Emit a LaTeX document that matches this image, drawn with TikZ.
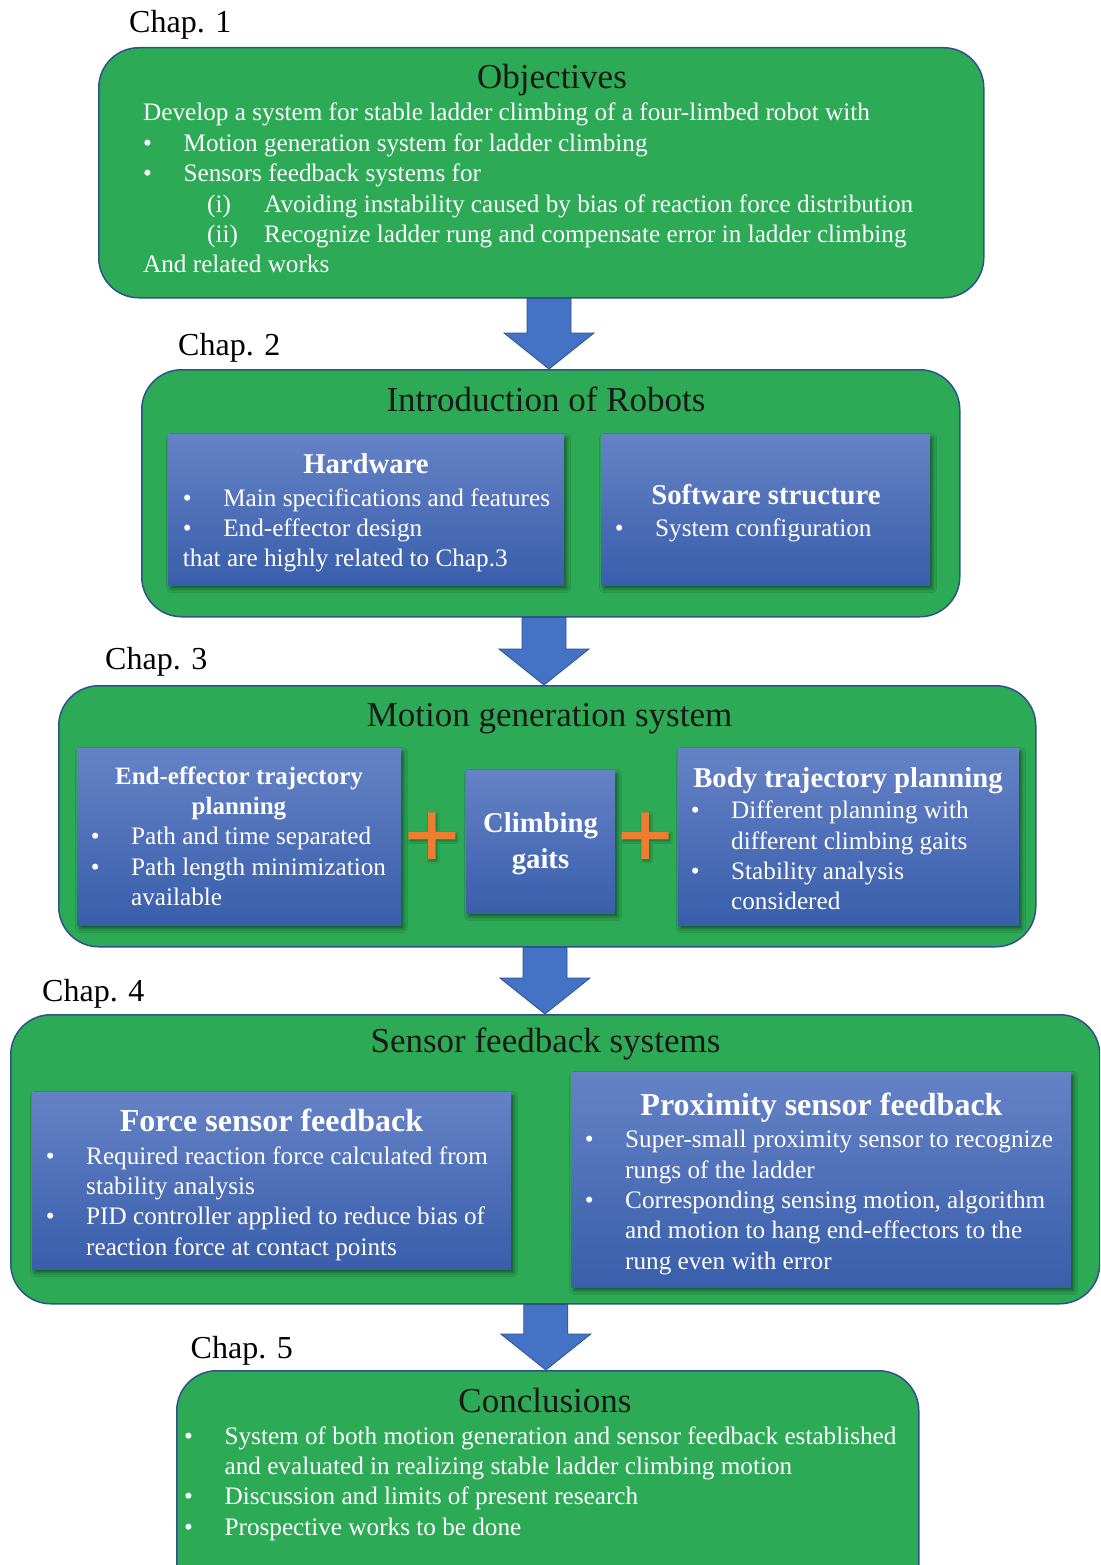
\documentclass[tikz,border=0pt]{standalone}
\usepackage{fontspec}
\setmainfont{Liberation Serif}
\usetikzlibrary{shadows.blur,calc}

\definecolor{boxgreen}{RGB}{45,170,85}
\definecolor{edgeblue}{RGB}{47,82,143}
\definecolor{arrowblue}{RGB}{68,114,196}
\definecolor{paneltop}{RGB}{101,130,198}
\definecolor{panelbot}{RGB}{57,94,171}
\definecolor{plusorange}{RGB}{237,125,49}
\definecolor{titleink}{RGB}{25,25,25}

\newcommand\bodyfont{\fontsize{25.2}{30.4}\selectfont}
\newcommand\itm{\makebox[40.4pt][l]{\textbullet}}
\newcommand\cont{\hspace*{40.4pt}}
\newcommand\subitm[1]{\hspace*{64pt}\makebox[57pt][l]{#1}}

% downward block arrow from the bottom of one box to the top of the next
\newcommand\flowarrow[3]{%
  \filldraw[arrowblue, draw=edgeblue, line width=0.8pt]
    let \p1=(#1.south -| #3,0), \p2=(#2.north -| #3,0) in
    (\x1-22pt,\y1) -- (\x1+22pt,\y1) -- (\x1+22pt,\y2+36pt) -- (\x1+45pt,\y2+36pt)
    -- (\x2,\y2) -- (\x1-45pt,\y2+36pt) -- (\x1-22pt,\y2+36pt) -- cycle;}

% orange plus sign centred on a coordinate
\newcommand\plussign[1]{%
  \fill[plusorange, blur shadow={shadow xshift=1.5pt, shadow yshift=-2pt, shadow blur radius=2pt, shadow opacity=35}]
    let \p1=(#1) in
    (\x1-23.5pt,\y1+3.75pt) -- (\x1-3.75pt,\y1+3.75pt) -- (\x1-3.75pt,\y1+23.3pt) -- (\x1+3.75pt,\y1+23.3pt)
    -- (\x1+3.75pt,\y1+3.75pt) -- (\x1+23.5pt,\y1+3.75pt) -- (\x1+23.5pt,\y1-3.75pt) -- (\x1+3.75pt,\y1-3.75pt)
    -- (\x1+3.75pt,\y1-23.3pt) -- (\x1-3.75pt,\y1-23.3pt) -- (\x1-3.75pt,\y1-3.75pt) -- (\x1-23.5pt,\y1-3.75pt) -- cycle;}

\tikzset{
  chapbox/.style={anchor=north west, inner sep=0, draw=edgeblue, line width=1.5pt,
    fill=boxgreen, rounded corners=40pt},
  panel/.style={anchor=north west, inner sep=0, top color=paneltop, bottom color=panelbot,
    blur shadow={shadow xshift=2.5pt, shadow yshift=-3.5pt, shadow blur radius=4pt, shadow opacity=50}},
  chaplabel/.style={anchor=base west, inner sep=0, font=\fontsize{32}{38}\selectfont, text=black},
  boxtitle/.style={anchor=base, inner sep=0, font=\fontsize{35}{42}\selectfont, text=titleink},
  paneltitle/.style={anchor=base, inner sep=0, font=\bfseries\fontsize{28.7}{34}\selectfont, text=white},
  bigtitle/.style={anchor=base, inner sep=0, font=\bfseries\fontsize{32}{38}\selectfont, text=white},
  blk/.style={anchor=north west, inner sep=0, align=left, font=\bodyfont, text=white},
}

\begin{document}
\begin{tikzpicture}[x=1pt, y=-1pt]
\useasboundingbox (0,0) rectangle (1100,1565);
\clip (0,0) rectangle (1100,1565);
\fill[white] (0,0) rectangle (1100,1565);

% ---------- chapter boxes ----------
\node[chapbox, minimum width=885pt, minimum height=250pt] (obj) at (98,47) {};
\node[chapbox, minimum width=818pt, minimum height=247pt] (intro) at (141,369) {};
\node[chapbox, minimum width=977pt, minimum height=261pt] (motion) at (58,685) {};
\node[chapbox, minimum width=1089pt, minimum height=289pt] (sensor) at (10,1014) {};
\node[chapbox, minimum width=742pt, minimum height=260pt] (concl) at (176,1370) {};

% ---------- arrows between chapters ----------
\flowarrow{obj}{intro}{549}
\flowarrow{intro}{motion}{544}
\flowarrow{motion}{sensor}{545}
\flowarrow{sensor}{concl}{545.8}

% ---------- chapter labels ----------
\node[chaplabel] (c1) at (129,33) {Chap. 1};
\node[chaplabel] (c2) at (178,355) {Chap. 2};
\node[chaplabel] (c3) at (105,669) {Chap. 3};
\node[chaplabel] (c4) at (42,1001) {Chap. 4};
\node[chaplabel] (c5) at (190.5,1358) {Chap. 5};

% ---------- Chap. 1: objectives ----------
\node[boxtitle] (objtitle) at (552,89) {Objectives};
\node[blk] (objtxt) at (143,99.4) {\strut Develop a system for stable ladder climbing of a four-limbed robot with\\
  \itm Motion generation system for ladder climbing\\
  \itm Sensors feedback systems for\\
  \subitm{(i)}Avoiding instability caused by bias of reaction force distribution\\
  \subitm{(ii)}Recognize ladder rung and compensate error in ladder climbing\\
  And related works};

% ---------- Chap. 2: robots ----------
\node[boxtitle] (introtitle) at (546,411) {Introduction of Robots};
\node[panel, minimum width=396pt, minimum height=151pt] (hw) at (168,434) {};
\node[panel, minimum width=329pt, minimum height=151pt] (sw) at (601,434) {};
\node[paneltitle] (hwtitle) at (366,473.3) {Hardware};
\node[blk] (hwtxt) at (182.7,484.7) {\strut\itm Main specifications and features\\
  \itm End-effector design\\
  that are highly related to Chap.3};
\node[paneltitle] (swtitle) at (766,504.5) {Software structure};
\node[blk] (swtxt) at (614.6,514.7) {\strut\itm System configuration};

% ---------- Chap. 3: motion generation ----------
\node[boxtitle] (motiontitle) at (549.5,726) {Motion generation system};
\node[panel, minimum width=324pt, minimum height=177pt] (ee) at (77,748) {};
\node[panel, minimum width=149pt, minimum height=143pt] (cg) at (466,770) {};
\node[panel, minimum width=341pt, minimum height=177pt] (bt) at (677.7,748) {};
\node[anchor=north, inner sep=0, align=center, text=white,
      font=\bfseries\fontsize{25}{30}\selectfont] (eetitle) at (239,763) {\strut End-effector trajectory\\planning};
\node[blk] (eetxt) at (90.6,823.2) {\strut\itm Path and time separated\\
  \itm Path length minimization\\
  \cont available};
\node[anchor=north, inner sep=0, align=center, text=white,
      font=\bfseries\fontsize{28.7}{35.6}\selectfont] (cgtitle) at (540.5,807.8) {\strut Climbing\\gaits};
\node[paneltitle] (bttitle) at (848,787.5) {Body trajectory planning};
\node[blk] (bttxt) at (690.6,797.2) {\strut\itm Different planning with\\
  \cont different climbing gaits\\
  \itm Stability analysis\\
  \cont considered};
\coordinate (plusA) at (431.8,835.7);
\coordinate (plusB) at (645.2,835.7);
\plussign{plusA}
\plussign{plusB}

% ---------- Chap. 4: sensor feedback ----------
\node[boxtitle] (sensortitle) at (545.5,1052) {Sensor feedback systems};
\node[panel, minimum width=479pt, minimum height=177pt] (fs) at (32,1092) {};
\node[panel, minimum width=500pt, minimum height=215pt] (ps) at (571,1072) {};
\node[bigtitle] (fstitle) at (271.5,1131.7) {Force sensor feedback};
\node[blk] (fstxt) at (45.6,1142.7) {\strut\itm Required reaction force calculated from\\
  \cont stability analysis\\
  \itm PID controller applied to reduce bias of\\
  \cont reaction force at contact points};
\node[bigtitle] (pstitle) at (821.5,1115) {Proximity sensor feedback};
\node[blk] (pstxt) at (584.6,1126.2) {\strut\itm Super-small proximity sensor to recognize\\
  \cont rungs of the ladder\\
  \itm Corresponding sensing motion, algorithm\\
  \cont and motion to hang end-effectors to the\\
  \cont rung even with error};

% ---------- Chap. 5: conclusions ----------
\node[boxtitle] (concltitle) at (545,1412) {Conclusions};
\node[blk] (concltxt) at (184,1422.7) {\strut\itm System of both motion generation and sensor feedback established\\
  \cont and evaluated in realizing stable ladder climbing motion\\
  \itm Discussion and limits of present research\\
  \itm Prospective works to be done};
\end{tikzpicture}
\end{document}
